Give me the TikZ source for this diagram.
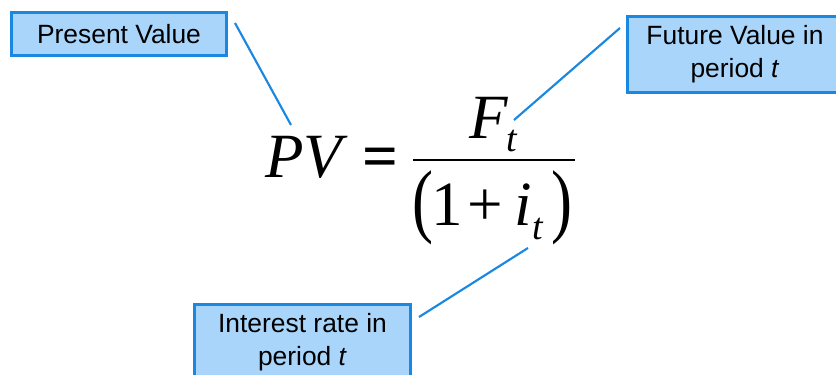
\documentclass[tikz,border=0pt]{standalone}
\usepackage{fontspec}
\setmainfont{Liberation Sans}
\newfontfamily\tms{Liberation Serif}
\usetikzlibrary{calc}
\definecolor{boxfill}{HTML}{A9D5FB}
\definecolor{boxline}{HTML}{1A87E0}
\begin{document}
\begin{tikzpicture}[x=0.75pt,y=-0.75pt,
  lbl/.style={draw=boxline, line width=2.25pt, fill=boxfill, align=center,
    font=\fontsize{19.8}{24.75}\selectfont, inner sep=0pt},
  conn/.style={draw=boxline, line width=1.6pt},
  eqi/.style={font=\tms\fontsize{47.25}{56}\selectfont\itshape, inner sep=0pt},
  eqr/.style={font=\tms\fontsize{47.25}{56}\selectfont, inner sep=0pt},
  eqb/.style={font=\tms\fontsize{47.25}{56}\selectfont\bfseries, inner sep=0pt},
  eqs/.style={font=\tms\fontsize{28.5}{34}\selectfont\itshape, inner sep=0pt}]
\useasboundingbox (0,0) rectangle (836,375);
\fill[white] (0,0) rectangle (836,375);
\begin{scope}
\clip (0,0) rectangle (836,375);
\node[lbl, minimum width=161.25pt, minimum height=32.25pt] (pvbox) at (119,34) {Present Value};
\node[lbl, minimum width=161.25pt, minimum height=57pt] (fvbox) at (735,54.5) {Future Value in\\period \textit{t}};
\node[lbl, minimum width=162pt, minimum height=57pt] (irbox) at (302.5,342.5) {Interest rate in\\period \textit{t}};
\end{scope}
% formula
\node[eqi, anchor=base west] (pv) at (265,177) {PV};
\node[eqb, anchor=base] (eqsign) at (380.5,177) {=};
\coordinate (barl) at (413,160);
\coordinate (barr) at (575,160);
\draw[line width=2.1pt] (barl) -- (barr);
\node[eqi, anchor=base west] (F) at (469,138) {F};
\node[eqs, anchor=base west] (Ft) at (506,151) {t};
\node[eqr, anchor=center] (lp) at (423,208) {\scalebox{1}[1.3]{(}};
\node[eqr, anchor=base] (one) at (447,225) {\makebox[20pt]{1}};
\node[eqr, anchor=base] (plus) at (485,225) {+};
\node[eqi, anchor=base west] (i) at (514,225) {i};
\node[eqs, anchor=base west] (it) at (532,239) {t};
\node[eqr, anchor=center] (rp) at (562,208) {\scalebox{1}[1.3]{)}};
% connectors
\coordinate (c1a) at (235,23);
\coordinate (c1b) at (291,125);
\coordinate (c2a) at (620,28);
\coordinate (c2b) at (514,120);
\coordinate (c3a) at (419,317);
\coordinate (c3b) at (528,248);
\draw[conn] (c1a) -- (c1b);
\draw[conn] (c2a) -- (c2b);
\draw[conn] (c3a) -- (c3b);
\end{tikzpicture}
\end{document}
